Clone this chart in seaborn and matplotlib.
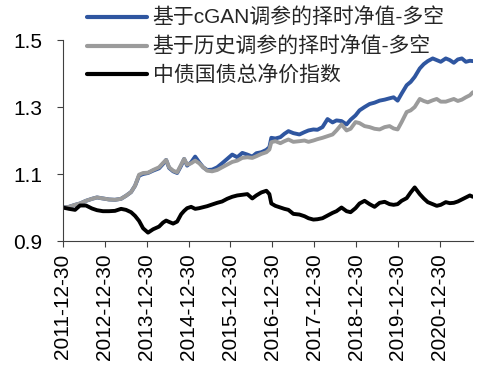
import matplotlib
matplotlib.use("Agg")
import matplotlib.pyplot as plt
import matplotlib.dates as mdates
import seaborn as sns
import pandas as pd

dates = [
    "2011-12-30", "2012-02-22", "2012-04-15", "2012-05-28", "2012-07-19", "2012-09-10", "2012-10-23", "2012-12-14",
    "2013-02-05", "2013-03-29", "2013-05-21", "2013-07-03", "2013-08-16", "2013-09-20", "2013-10-25", "2013-11-29",
    "2014-01-11", "2014-02-24", "2014-04-17", "2014-05-22", "2014-06-18", "2014-07-14", "2014-08-18", "2014-09-22",
    "2014-10-27", "2014-11-22", "2014-12-18", "2015-01-22", "2015-02-26", "2015-04-02", "2015-05-07", "2015-06-11",
    "2015-07-24", "2015-09-06", "2015-10-19", "2015-12-02", "2016-01-15", "2016-02-28", "2016-04-12", "2016-05-26",
    "2016-07-08", "2016-08-12", "2016-09-25", "2016-11-08", "2016-12-04", "2016-12-21", "2017-01-25", "2017-03-10",
    "2017-04-14", "2017-05-19", "2017-07-01", "2017-08-23", "2017-10-06", "2017-11-10", "2017-12-23", "2018-01-27",
    "2018-03-12", "2018-04-25", "2018-06-08", "2018-07-12", "2018-08-25", "2018-10-08", "2018-11-12", "2018-12-25",
    "2019-01-29", "2019-03-14", "2019-04-27", "2019-06-09", "2019-07-23", "2019-09-05", "2019-10-18", "2019-11-22",
    "2019-12-27", "2020-01-31", "2020-03-15", "2020-04-19", "2020-05-24", "2020-07-07", "2020-08-11", "2020-09-15",
    "2020-10-28", "2020-12-02", "2021-01-06", "2021-02-19", "2021-03-26", "2021-04-30", "2021-06-04", "2021-07-09",
    "2021-08-13", "2021-09-17", "2021-10-13",
]

cgan_nav = [
    1.000, 1.002, 1.008, 1.012, 1.020, 1.026, 1.030, 1.027,
    1.024, 1.023, 1.026, 1.035, 1.046, 1.065, 1.095, 1.100,
    1.103, 1.110, 1.117, 1.130, 1.142, 1.118, 1.108, 1.103,
    1.125, 1.145, 1.125, 1.135, 1.152, 1.135, 1.120, 1.112,
    1.113, 1.120, 1.132, 1.145, 1.158, 1.150, 1.163, 1.158,
    1.152, 1.162, 1.165, 1.172, 1.180, 1.208, 1.206, 1.210,
    1.220, 1.228, 1.222, 1.218, 1.225, 1.230, 1.233, 1.232,
    1.240, 1.264, 1.254, 1.260, 1.258, 1.248, 1.262, 1.275,
    1.290, 1.300, 1.309, 1.313, 1.319, 1.322, 1.326, 1.329,
    1.319, 1.340, 1.365, 1.375, 1.390, 1.415, 1.428, 1.437,
    1.445, 1.440, 1.435, 1.445, 1.440, 1.432, 1.442, 1.445,
    1.435, 1.438, 1.437,
]

hist_nav = [
    1.000, 1.002, 1.008, 1.012, 1.020, 1.026, 1.030, 1.027,
    1.024, 1.023, 1.026, 1.035, 1.046, 1.065, 1.098, 1.103,
    1.104, 1.112, 1.120, 1.133, 1.142, 1.120, 1.110, 1.105,
    1.128, 1.145, 1.128, 1.132, 1.140, 1.132, 1.120, 1.110,
    1.108, 1.112, 1.120, 1.128, 1.136, 1.140, 1.148, 1.150,
    1.148, 1.153, 1.160, 1.165, 1.173, 1.195, 1.198, 1.192,
    1.198, 1.203, 1.196, 1.198, 1.200, 1.196, 1.200, 1.204,
    1.208, 1.213, 1.218, 1.230, 1.248, 1.230, 1.235, 1.255,
    1.252, 1.243, 1.240, 1.235, 1.233, 1.240, 1.243, 1.236,
    1.233, 1.255, 1.285, 1.290, 1.300, 1.324, 1.318, 1.314,
    1.320, 1.324, 1.316, 1.316, 1.320, 1.324, 1.318, 1.322,
    1.329, 1.335, 1.344,
]

bond_index = [
    1.000, 0.996, 0.993, 1.006, 1.006, 0.997, 0.992, 0.989,
    0.989, 0.990, 0.996, 0.993, 0.986, 0.975, 0.960, 0.938,
    0.925, 0.935, 0.943, 0.955, 0.961, 0.957, 0.952, 0.958,
    0.980, 0.990, 0.998, 1.002, 0.996, 0.998, 1.001, 1.004,
    1.009, 1.014, 1.018, 1.026, 1.032, 1.036, 1.038, 1.040,
    1.027, 1.036, 1.045, 1.050, 1.040, 1.012, 1.005, 1.000,
    0.996, 0.993, 0.981, 0.979, 0.974, 0.968, 0.964, 0.965,
    0.968, 0.976, 0.984, 0.989, 1.000, 0.989, 0.986, 0.998,
    1.012, 1.020, 1.010, 1.002, 1.014, 1.017, 1.010, 1.008,
    1.010, 1.020, 1.028, 1.045, 1.060, 1.040, 1.027, 1.016,
    1.010, 1.005, 1.008, 1.016, 1.013, 1.014, 1.018, 1.024,
    1.030, 1.036, 1.032,
]

series_names = ["基于cGAN调参的择时净值-多空", "基于历史调参的择时净值-多空", "中债国债总净价指数"]
series_colors = ["#2F56A0", "#9B9B9B", "#000000"]
x_ticks = ["2011-12-30", "2012-12-30", "2013-12-30", "2014-12-30", "2015-12-30",
           "2016-12-30", "2017-12-30", "2018-12-30", "2019-12-30", "2020-12-30"]
y_ticks = [0.9, 1.1, 1.3, 1.5]

df = pd.concat([
    pd.DataFrame({"date": pd.to_datetime(dates), "value": vals, "series": name})
    for name, vals in zip(series_names, [cgan_nav, hist_nav, bond_index])
], ignore_index=True)

sns.set_style("ticks")
plt.rcParams["font.family"] = ["Liberation Sans", "Noto Sans CJK SC"]

fig = plt.figure(figsize=(4.83, 3.66), dpi=100)
ax = fig.add_axes([0.130, 0.3415, 0.849, 0.5492])

sns.lineplot(data=df, x="date", y="value", hue="series", hue_order=series_names,
             palette=dict(zip(series_names, series_colors)), linewidth=2.8, ax=ax,
             legend=False)

ax.set_xlim(pd.Timestamp(dates[0]), pd.Timestamp(dates[-1]))
ax.set_ylim(0.9, 1.5)
ax.set_yticks(y_ticks)
ax.set_yticklabels([f"{v:.1f}" for v in y_ticks])
ax.set_xticks(pd.to_datetime(x_ticks))
ax.set_xticklabels(x_ticks, rotation=90)
ax.set_xlabel("")
ax.set_ylabel("")

for s in ["top", "right"]:
    ax.spines[s].set_visible(False)
for s in ["left", "bottom"]:
    ax.spines[s].set_color("#404040")
    ax.spines[s].set_linewidth(0.8)
ax.tick_params(axis="both", direction="out", length=4, width=0.8, color="#404040",
               labelsize=15, labelcolor="#000000")
ax.tick_params(axis="y", pad=11)
ax.tick_params(axis="x", pad=5)

handles = [plt.Line2D([], [], color=c, linewidth=3.0) for c in series_colors]
leg = fig.legend(handles, series_names, loc="upper left",
                 bbox_to_anchor=(0.180, 0.978), bbox_transform=fig.transFigure,
                 frameon=False, borderpad=0, borderaxespad=0,
                 handlelength=2.9, handletextpad=0.25, labelspacing=0.42,
                 prop={"size": 15, "family": ["Liberation Sans", "Noto Sans CJK SC"]})

fig.savefig("out.png", dpi=100)
